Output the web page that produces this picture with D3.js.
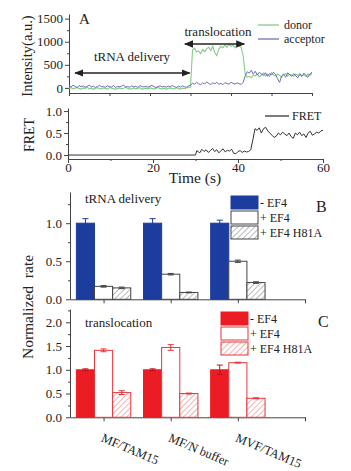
<!DOCTYPE html>
<html>
<head>
<meta charset="utf-8">
<script src="https://cdn.jsdelivr.net/npm/d3@7"></script>
<style>
  body { margin: 0; background: #fff; }
  svg { display: block; }
  text { font-family: "Liberation Serif", "Times New Roman", serif; fill: #222; }
</style>
</head>
<body>
<div class="fig"></div>
<script>
// ---- panel A : intensity traces, sampled every 0.5 s ----
var traceTime = d3.range(0, 60.5, 0.5);

var donor = [
  -10, 5, -20, -5, 10, -15, -25, 0, -10, 15,
  -20, -5, -30, -10, 5, -15, -20, 0, -10, -25,
  10, -5, -15, -30, -10, 0, -20, -5, 15, -10,
  -25, -15, 0, -20, -10, 5, -30, -15, -5, -20,
  0, -10, -25, -5, 10, -15, -20, -5, -30, -10,
  0, -15, -20, 5, -10, -25, -5, -15, 0, 10,
  20, 820, 860, 780, 800, 740, 830, 780, 850, 880,
  810, 900, 760, 700, 840, 900, 870, 930, 880, 950,
  900, 920, 870, 940, 910, 880, 700, 300, 230, 250,
  220, 280, 260, 300, 240, 280, 320, 260, 300, 250,
  330, 280, 260, 300, 270, 230, 290, 310, 260, 300,
  280, 250, 300, 270, 310, 260, 290, 250, 300, 270,
  320
];

var acceptor = [
  40, 20, 60, 30, 10, 50, 25, 45, 15, 35,
  60, 20, 40, 10, 30, 55, 25, 35, 15, 45,
  30, 20, 50, 10, 35, 25, 40, 60, 20, 30,
  15, 45, 25, 35, 10, 50, 30, 20, 40, 15,
  35, 55, 25, 10, 30, 45, 20, 35, 15, 40,
  25, 50, 30, 10, 35, 20, 45, 25, 15, 40,
  60, 100, 80, 120, 90, 70, 110, 85, 130, 95,
  75, 110, 90, 120, 80, 100, 70, 115, 95, 80,
  120, 100, 85, 110, 90, 75, 120, 260, 350, 320,
  380, 300, 360, 280, 340, 300, 270, 330, 250, 310,
  280, 340, 290, 200, 120, 260, 300, 230, 330, 280,
  250, 310, 260, 220, 290, 250, 320, 270, 230, 300,
  340
];

// ---- FRET trace ----
var fretTime = [0, 30, 30.3, 31, 31.5, 32, 32.5, 33, 33.5, 34, 34.5, 35, 35.5, 36, 36.5, 37, 37.5, 38, 38.5,
  39, 39.5, 40, 40.5, 41, 41.5, 42, 42.5, 43, 43.5, 44, 44.5, 45, 45.5, 46, 46.5, 47, 47.5, 48, 48.5,
  49, 49.5, 50, 50.5, 51, 51.5, 52, 52.5, 53, 53.5, 54, 54.5, 55, 55.5, 56, 56.5, 57, 57.5, 58, 58.5,
  59, 59.5, 60];
var fretValue = [0, 0, 0.1, 0.05, 0.13, 0.08, 0.12, 0.06, 0.1, 0.15, 0.08, 0.12, 0.05, 0.1, 0.14, 0.07, 0.11, 0.09, 0.13,
  0.04, 0.03, 0.08, 0.1, 0.06, 0.09, 0.07, 0.08, 0.12, 0.35, 0.6, 0.56, 0.62, 0.5, 0.6, 0.63, 0.55, 0.5, 0.45, 0.4,
  0.43, 0.5, 0.46, 0.52, 0.48, 0.44, 0.5, 0.42, 0.38, 0.5, 0.46, 0.52, 0.44, 0.48, 0.4, 0.5, 0.54, 0.45, 0.48, 0.52,
  0.5, 0.55, 0.56];

// ---- panels B and C : normalized rates ----
var groups = ["MF/TAM15", "MF/N buffer", "MVF/TAM15"];
var conditions = ["- EF4", "+ EF4", "+ EF4 H81A"];

// one row per condition, one value per group
var deliveryRate = [[1.0, 1.0, 1.0], [0.17, 0.33, 0.50], [0.15, 0.09, 0.22]];
var deliveryErr  = [[0.06, 0.06, 0.04], [0.01, 0.01, 0.015], [0.01, 0.005, 0.01]];
var translocRate = [[1.0, 1.0, 1.0], [1.41, 1.47, 1.15], [0.52, 0.50, 0.40]];
var translocErr  = [[0.02, 0.02, 0.1], [0.03, 0.06, 0.01], [0.04, 0.01, 0.01]];

var W = 351, H = 471;
var axisColor = "#444";

var svg = d3.select(".fig").append("svg")
  .attr("width", W)
  .attr("height", H);

var defs = svg.append("defs");
function hatch(id, color) {
  var p = defs.append("pattern")
    .attr("id", id)
    .attr("patternUnits", "userSpaceOnUse")
    .attr("width", 4).attr("height", 4)
    .attr("patternTransform", "rotate(45)");
  p.append("rect").attr("width", 4).attr("height", 4).attr("fill", "white");
  p.append("line").attr("x1", 0).attr("y1", 0).attr("x2", 0).attr("y2", 4)
    .attr("stroke", color).attr("stroke-width", 1.2);
}
hatch("hatchB", "#8a8a96");
hatch("hatchC", "#ee8080");

function styleAxis(g, fs) {
  g.selectAll("path, line").attr("stroke", axisColor);
  g.selectAll("text")
    .attr("font-family", "Liberation Serif")
    .attr("font-size", fs)
    .attr("fill", "#222");
}

function minorTicks(g, axis) {
  g.call(axis);
  g.selectAll("path").remove();
  g.selectAll("text").remove();
  g.selectAll("line").attr("stroke", axisColor);
}

// ============ Panel A ============
var xA = d3.scaleLinear().domain([0, 60]).range([69, 312]);
var yA = d3.scaleLinear().domain([-110, 1600]).range([93, 14]);

svg.append("g").attr("transform", "translate(69,0)")
  .call(d3.axisLeft(yA).tickValues([0, 500, 1000, 1500]).tickFormat(d3.format("d")).tickSize(4).tickSizeOuter(0).tickPadding(2))
  .call(g => styleAxis(g, 13));
svg.append("g").attr("transform", "translate(69,0)")
  .call(g => minorTicks(g, d3.axisLeft(yA).tickValues([250, 750, 1250]).tickSize(2)));
svg.append("g").attr("transform", "translate(0,93)")
  .call(d3.axisBottom(xA).tickValues(d3.range(0, 61, 10)).tickSize(3).tickSizeOuter(0).tickFormat(""))
  .call(g => styleAxis(g, 13));

var lineA = d3.line().x((d, i) => xA(traceTime[i])).y(d => yA(d));
svg.append("path").datum(donor)
  .attr("d", lineA).attr("fill", "none")
  .attr("stroke", "#86cc86").attr("stroke-width", 1.1);
svg.append("path").datum(acceptor)
  .attr("d", lineA).attr("fill", "none")
  .attr("stroke", "#7070b8").attr("stroke-width", 1);

// arrows
defs.append("marker").attr("id", "arr")
  .attr("viewBox", "0 0 10 10").attr("refX", 9).attr("refY", 5)
  .attr("markerWidth", 7).attr("markerHeight", 7).attr("orient", "auto-start-reverse")
  .append("path").attr("d", "M0,1 L10,5 L0,9 Z").attr("fill", "#222");

svg.append("line")
  .attr("x1", xA(1.5)).attr("x2", xA(29.8)).attr("y1", 73).attr("y2", 73)
  .attr("stroke", "#222").attr("stroke-width", 1.3)
  .attr("marker-start", "url(#arr)").attr("marker-end", "url(#arr)");
svg.append("text").attr("x", 132).attr("y", 61).attr("text-anchor", "middle")
  .attr("font-size", 13).text("tRNA delivery");

svg.append("line")
  .attr("x1", xA(28.6)).attr("x2", xA(43.3)).attr("y1", 44).attr("y2", 44)
  .attr("stroke", "#222").attr("stroke-width", 1.3)
  .attr("marker-start", "url(#arr)").attr("marker-end", "url(#arr)");
svg.append("text").attr("x", 218).attr("y", 36).attr("text-anchor", "middle")
  .attr("font-size", 13).text("translocation");

svg.append("text").attr("x", 79).attr("y", 24).attr("font-size", 15).text("A");

svg.append("text")
  .attr("transform", "translate(32,56) rotate(-90)")
  .attr("text-anchor", "middle").attr("font-size", 14.5)
  .text("Intensity(a.u.)");

// legend A
var legA = [["donor", "#86cc86"], ["acceptor", "#7070b8"]];
legA.forEach(function(d, i) {
  svg.append("line").attr("x1", 258).attr("x2", 279)
    .attr("y1", 25 + i * 14).attr("y2", 25 + i * 14)
    .attr("stroke", d[1]).attr("stroke-width", 1.3);
  svg.append("text").attr("x", 284).attr("y", 29 + i * 14)
    .attr("font-size", 12).text(d[0]);
});

// ============ FRET panel ============
var xF = d3.scaleLinear().domain([0, 60]).range([68, 323]);
var yF = d3.scaleLinear().domain([-0.09, 1.07]).range([159, 108]);

svg.append("g").attr("transform", "translate(68,0)")
  .call(d3.axisLeft(yF).tickValues([0, 0.5, 1.0]).tickFormat(d3.format(".1f")).tickSize(4).tickSizeOuter(0).tickPadding(2))
  .call(g => styleAxis(g, 13));
svg.append("g").attr("transform", "translate(68,0)")
  .call(g => minorTicks(g, d3.axisLeft(yF).tickValues([0.25, 0.75]).tickSize(2)));
svg.append("g").attr("transform", "translate(0,159)")
  .call(d3.axisBottom(xF).tickValues([0, 20, 40, 60]).tickSize(4).tickSizeOuter(0).tickPadding(0))
  .call(g => styleAxis(g, 13));
svg.append("g").attr("transform", "translate(0,159)")
  .call(g => minorTicks(g, d3.axisBottom(xF).tickValues([10, 30, 50]).tickSize(2)));

svg.append("path").datum(fretValue)
  .attr("d", d3.line().x((d, i) => xF(fretTime[i])).y(d => yF(d)))
  .attr("fill", "none").attr("stroke", "#333").attr("stroke-width", 1);

svg.append("line").attr("x1", 265).attr("x2", 289).attr("y1", 116).attr("y2", 116)
  .attr("stroke", "#333").attr("stroke-width", 1.3);
svg.append("text").attr("x", 292).attr("y", 120).attr("font-size", 12).text("FRET");

svg.append("text")
  .attr("transform", "translate(34,135) rotate(-90)")
  .attr("text-anchor", "middle").attr("font-size", 14)
  .text("FRET");

svg.append("text").attr("x", 195).attr("y", 183).attr("text-anchor", "middle")
  .attr("font-size", 15.5).text("Time (s)");

// ============ Panels B and C ============
var xBar = d3.scaleLinear().domain([-0.5, 3]).range([70, 305]);
var bw = xBar(0.27) - xBar(0);

function barPanel(opt) {
  var y = d3.scaleLinear().domain([0, opt.top]).range([opt.y0, opt.yTop]);

  svg.append("g").attr("transform", "translate(70,0)")
    .call(d3.axisLeft(y).tickValues(opt.ticks).tickFormat(d3.format(".1f")).tickSize(4).tickSizeOuter(0).tickPadding(4))
    .call(g => styleAxis(g, 13));
  svg.append("g").attr("transform", "translate(70,0)")
    .call(g => minorTicks(g, d3.axisLeft(y).tickValues(opt.ticks.map(d => d + 0.25)).tickSize(2)));
  svg.append("g").attr("transform", "translate(0," + opt.y0 + ")")
    .call(d3.axisBottom(xBar).tickValues([0, 1, 2, 3]).tickSize(4).tickSizeOuter(0).tickFormat(""))
    .call(g => styleAxis(g, 13));

  var fills = [opt.color, "white", "url(#" + opt.hatch + ")"];

  opt.rate.forEach(function(row, j) {
    var bars = svg.append("g");
    bars.selectAll("rect")
      .data(row)
      .enter()
      .append("rect")
      .attr("x", (d, i) => xBar(i) + (j - 1.5) * bw)
      .attr("width", bw)
      .attr("y", d => y(d))
      .attr("height", d => opt.y0 - y(d))
      .attr("fill", fills[j])
      .attr("stroke", j === 0 ? opt.color : opt.edge)
      .attr("stroke-width", 1);

    var errColor = j === 0 ? opt.errTop : opt.edge;
    row.forEach(function(v, i) {
      var cx = xBar(i) + (j - 1) * bw;
      var e = opt.err[j][i];
      var g = svg.append("g").attr("stroke", errColor).attr("stroke-width", 1);
      g.append("line").attr("x1", cx).attr("x2", cx).attr("y1", y(v - e)).attr("y2", y(v + e));
      g.append("line").attr("x1", cx - 3).attr("x2", cx + 3).attr("y1", y(v + e)).attr("y2", y(v + e));
      g.append("line").attr("x1", cx - 3).attr("x2", cx + 3).attr("y1", y(v - e)).attr("y2", y(v - e));
    });
  });

  // legend
  conditions.forEach(function(c, j) {
    var ly = opt.legY + j * 15;
    svg.append("rect").attr("x", opt.legX).attr("y", ly)
      .attr("width", 27).attr("height", 13)
      .attr("fill", fills[j])
      .attr("stroke", j === 0 ? opt.color : opt.edge).attr("stroke-width", 1);
    svg.append("text").attr("x", opt.legX + 29).attr("y", ly + 11)
      .attr("font-size", 12).text(c);
  });

  svg.append("text").attr("x", 85).attr("y", opt.titleY).attr("font-size", 13).text(opt.title);
  svg.append("text").attr("x", opt.letterX).attr("y", opt.letterY).attr("font-size", 16).text(opt.letter);
}

barPanel({
  top: 1.41, y0: 299.3, yTop: 192, ticks: [0, 0.5, 1.0],
  rate: deliveryRate, err: deliveryErr,
  color: "#1c3c9e", edge: "#444", errTop: "#1c3c9e", hatch: "hatchB",
  legX: 231, legY: 196, title: "tRNA delivery", titleY: 203,
  letter: "B", letterX: 316, letterY: 212
});

barPanel({
  top: 2.28, y0: 417.3, yTop: 309, ticks: [0, 0.5, 1.0, 1.5, 2.0],
  rate: translocRate, err: translocErr,
  color: "#ec1c24", edge: "#e8353b", errTop: "#c01018", hatch: "hatchC",
  legX: 221, legY: 312, title: "translocation", titleY: 327,
  letter: "C", letterX: 318, letterY: 327
});

svg.append("text")
  .attr("transform", "translate(33,307) rotate(-90)")
  .attr("text-anchor", "middle").attr("font-size", 15.5)
  .attr("xml:space", "preserve")
  .text("Normalized  rate");

// rotated category labels
svg.append("g")
  .selectAll("text")
  .data(groups)
  .enter()
  .append("text")
  .attr("transform", (d, i) => "translate(" + (xBar(i) - 3) + ",441) rotate(23)")
  .attr("font-size", 12.5)
  .text(d => d);
</script>
</body>
</html>
